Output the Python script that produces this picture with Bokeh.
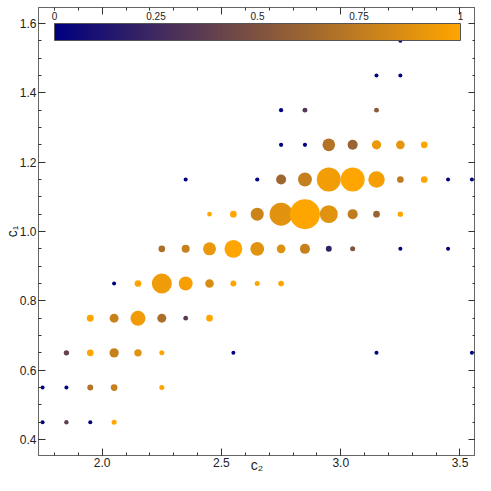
import numpy as np
from bokeh.plotting import figure
from bokeh.models import (ColumnDataSource, LinearColorMapper, ColorBar, LinearAxis,
                          FixedTicker, Range1d, BasicTicker, PrintfTickFormatter)
from bokeh.embed import file_html
from bokeh.resources import INLINE

# ---- data ----
c2 = [3.25,
      3.15, 3.25,
      2.75, 2.85, 3.15,
      2.75, 2.85, 2.95, 3.05, 3.15, 3.25, 3.35,
      2.35, 2.65, 2.75, 2.85, 2.95, 3.05, 3.15, 3.25, 3.35, 3.45, 3.55,
      2.45, 2.55, 2.65, 2.75, 2.85, 2.95, 3.05, 3.15, 3.25,
      2.25, 2.35, 2.45, 2.55, 2.65, 2.75, 2.85, 2.95, 3.05, 3.25, 3.45,
      2.05, 2.15, 2.25, 2.35, 2.45, 2.55, 2.65, 2.75,
      1.95, 2.05, 2.15, 2.25, 2.35, 2.45,
      1.85, 1.95, 2.05, 2.15, 2.25, 2.55, 3.15, 3.55,
      1.75, 1.85, 1.95, 2.05, 2.25,
      1.75, 1.85, 1.95, 2.05,
      1.75, 2.45]
c1 = [1.55,
      1.45, 1.45,
      1.35, 1.35, 1.35,
      1.25, 1.25, 1.25, 1.25, 1.25, 1.25, 1.25,
      1.15, 1.15, 1.15, 1.15, 1.15, 1.15, 1.15, 1.15, 1.15, 1.15, 1.15,
      1.05, 1.05, 1.05, 1.05, 1.05, 1.05, 1.05, 1.05, 1.05,
      0.95, 0.95, 0.95, 0.95, 0.95, 0.95, 0.95, 0.95, 0.95, 0.95, 0.95,
      0.85, 0.85, 0.85, 0.85, 0.85, 0.85, 0.85, 0.85,
      0.75, 0.75, 0.75, 0.75, 0.75, 0.75,
      0.65, 0.65, 0.65, 0.65, 0.65, 0.65, 0.65, 0.65,
      0.55, 0.55, 0.55, 0.55, 0.55,
      0.45, 0.45, 0.45, 0.45,
      0.35, 0.35]
count = [1,
         1, 1,
         1.1, 1.5, 1.5,
         1.1, 1.1, 10, 6.3, 5.4, 4.7, 2.8,
         1, 1.1, 6.3, 12, 36, 36, 17, 2.8, 2.8, 1, 1,
         1.4, 2.8, 10.5, 33, 56, 20, 6.3, 2.8, 1.8,
         2.8, 4, 10.5, 20, 12, 4.7, 6.3, 2.2, 1.6, 1, 1,
         1, 2.8, 25, 12, 4.7, 2.2, 1.6, 2,
         3, 5, 14, 5, 1.4, 2.8,
         1.8, 2.8, 5.4, 3.4, 1.6, 1, 1, 1,
         1, 1, 2.2, 2.8, 1.6,
         1, 1.2, 1, 1.6,
         1, 1]
score = [0,
         0, 0,
         0, 0.33, 0.55,
         0, 0, 0.7, 0.6, 0.92, 0.9, 1,
         0, 0, 0.62, 0.77, 0.95, 1, 0.96, 0.75, 1, 0, 0,
         1, 1, 0.8, 0.88, 1, 0.88, 0.75, 0.6, 1,
         0.67, 0.78, 0.92, 1, 0.88, 0.87, 0.78, 0.2, 0.5, 0, 0,
         0, 1, 0.94, 0.96, 0.85, 1, 1, 1,
         1, 0.78, 0.94, 0.67, 0.35, 1,
         0.4, 1, 0.78, 0.88, 1, 0, 0, 0,
         0, 0, 0.7, 0.78, 1,
         0, 0.37, 0, 1,
         0, 0]
cbar_ticks = [0, 0.25, 0.5, 0.75, 1]
cbar_labels = ["0", "0.25", "0.5", "0.75", "1"]

# ---- palette navy -> orange ----
lo = np.array([0, 0, 128]); hi = np.array([255, 165, 0])
palette = ["#%02x%02x%02x" % tuple(int(round(v)) for v in lo + (hi - lo) * t)
           for t in np.linspace(0, 1, 256)]
mapper = LinearColorMapper(palette=palette, low=0, high=1)

src = ColumnDataSource(dict(x=c2, y=c1, v=score,
                            s=4.0 * np.sqrt(np.array(count, dtype=float))))

FONT = "Liberation Sans"
p = figure(width=475, height=475, output_backend="svg", toolbar_location=None,
           x_range=Range1d(1.733, 3.565), y_range=Range1d(0.354, 1.646),
           min_border_left=0, min_border_right=0, min_border_top=7, min_border_bottom=0,
           x_axis_label="c₂", y_axis_label="c₁")
p.grid.visible = False
p.outline_line_color = "#666666"
p.background_fill_color = "white"

p.scatter("x", "y", source=src, size="s",
          fill_color={"field": "v", "transform": mapper}, line_color=None)

xt = BasicTicker(desired_num_ticks=4, num_minor_ticks=5)
yt = BasicTicker(desired_num_ticks=7, num_minor_ticks=4)
p.xaxis.ticker = xt
p.yaxis.ticker = yt
p.xaxis.formatter = PrintfTickFormatter(format="%.1f")
p.yaxis.formatter = PrintfTickFormatter(format="%.1f")

def style(ax, labels=True, label_standoff=-3):
    ax.axis_line_color = "#666666"
    ax.major_tick_line_color = "#333333"
    ax.minor_tick_line_color = "#333333"
    ax.major_tick_in = 7
    ax.major_tick_out = 0
    ax.minor_tick_in = 3
    ax.minor_tick_out = 0
    if labels:
        ax.major_label_text_font = FONT
        ax.major_label_text_font_size = "12px"
        ax.major_label_text_color = "#222222"
        ax.major_label_standoff = 2
        ax.axis_label_text_font = FONT
        ax.axis_label_text_font_size = "14px"
        ax.axis_label_text_font_style = "normal"
        ax.axis_label_text_color = "#222222"
        ax.axis_label_standoff = label_standoff
    else:
        ax.major_label_text_font_size = "1px"
        ax.major_label_text_color = None
        ax.major_label_standoff = 0

style(p.xaxis[0], label_standoff=-13); style(p.yaxis[0])

top = LinearAxis(ticker=xt); style(top, labels=False)
right = LinearAxis(ticker=yt); style(right, labels=False)
p.add_layout(top, "above")
p.add_layout(right, "right")

cb = ColorBar(color_mapper=mapper, orientation="horizontal", location="top_left",
              width=406, height=17, margin=16, padding=0,
              ticker=FixedTicker(ticks=cbar_ticks),
              major_label_overrides={t: l for t, l in zip(cbar_ticks, cbar_labels)},
              major_label_text_font=FONT, major_label_text_font_size="10px",
              major_label_text_color="#222222",
              label_standoff=-29, major_tick_line_color=None, minor_tick_line_color=None,
              bar_line_color="#555555", bar_line_width=1,
              background_fill_alpha=0, border_line_color=None)
p.add_layout(cb, "center")

open("out.html", "w").write(file_html(p, INLINE))
